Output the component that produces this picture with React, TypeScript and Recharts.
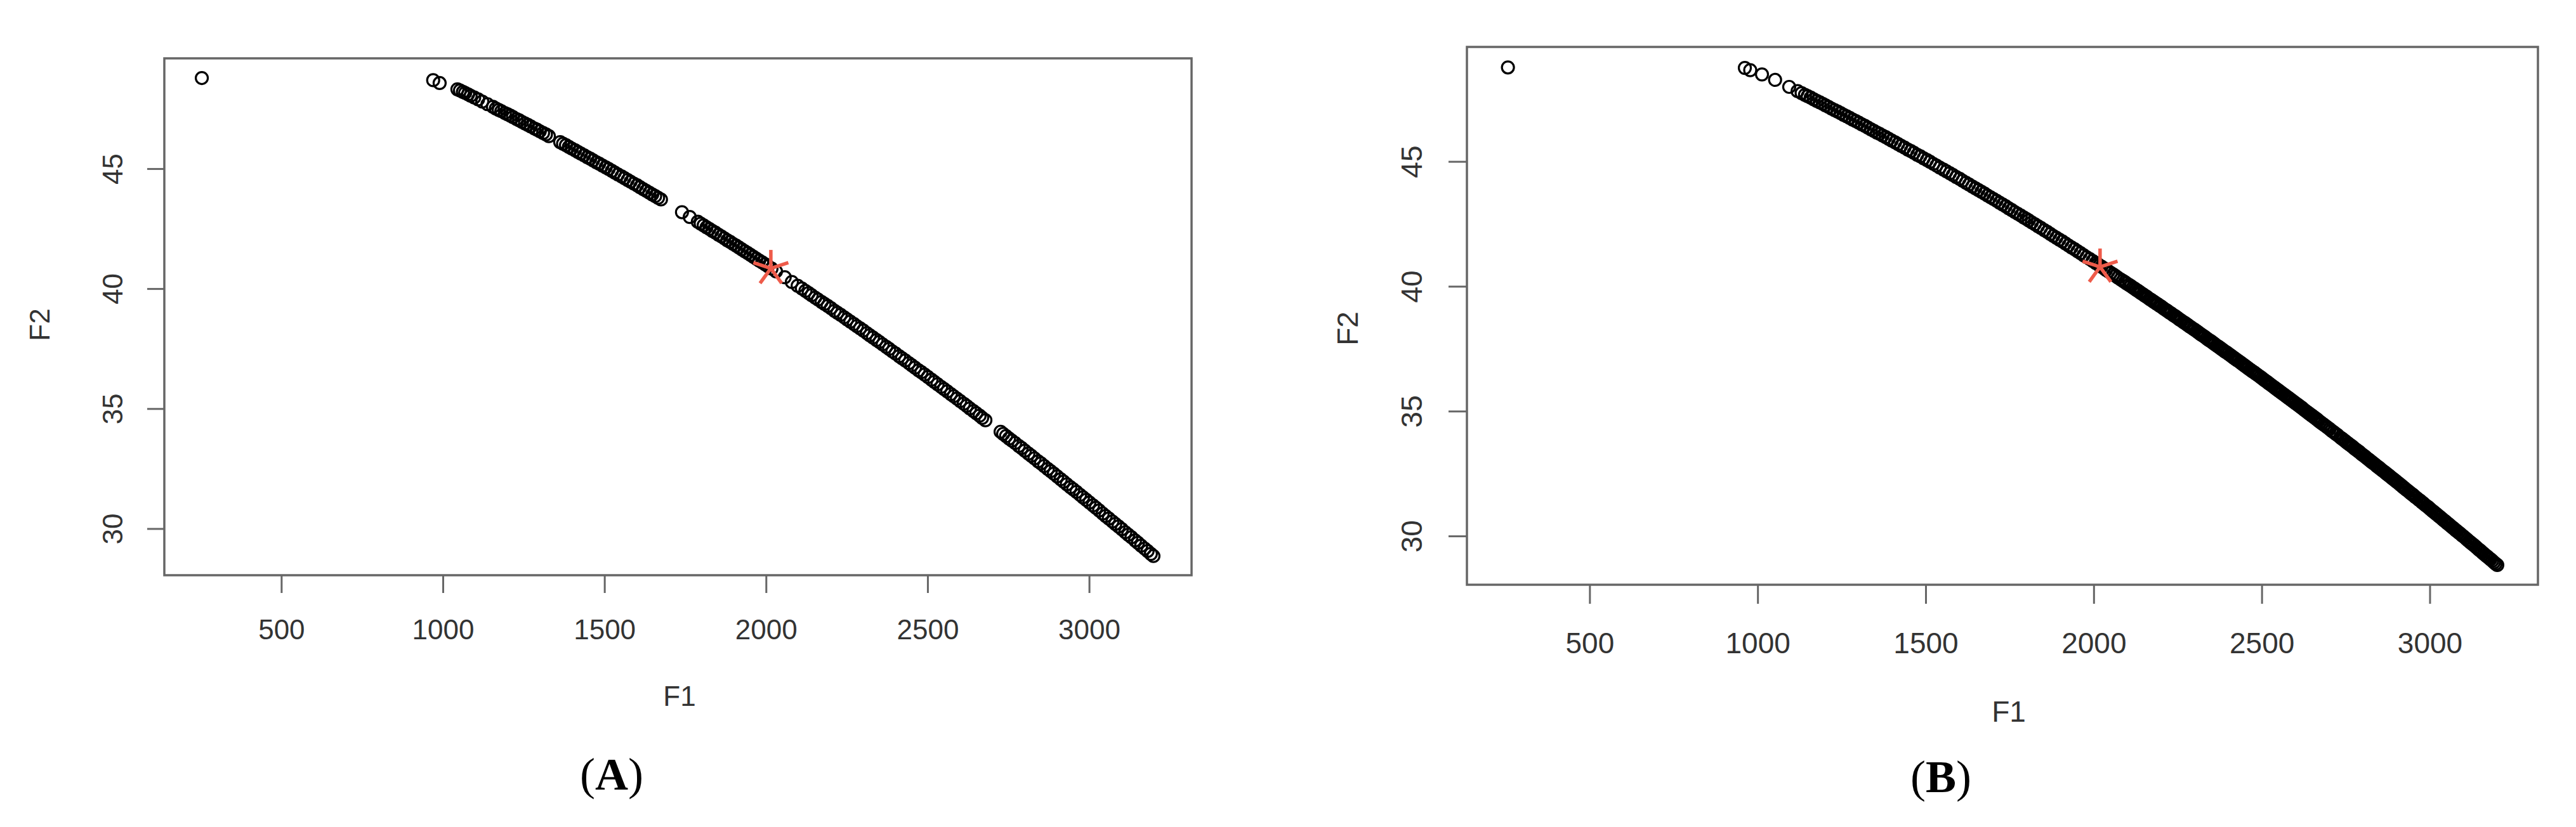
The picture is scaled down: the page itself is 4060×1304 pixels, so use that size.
import React from 'react';
import { ScatterChart, Scatter, XAxis, YAxis, ReferenceArea } from 'recharts';

// ---- data (F1, F2) ----
const panelAPoints: [number, number][] = [
  [253, 48.79], [969, 48.70], [989, 48.58],
  [1044, 48.32], [1052, 48.27], [1061, 48.21], [1068, 48.17], [1077, 48.11], [1085, 48.05], [1096, 47.98],
  [1108, 47.90], [1121, 47.81], [1137, 47.70], [1154, 47.59], [1163, 47.52], [1172, 47.46], [1180, 47.41],
  [1191, 47.33], [1199, 47.28], [1208, 47.22], [1216, 47.16], [1227, 47.08], [1235, 47.03], [1244, 46.96],
  [1253, 46.90], [1262, 46.84], [1271, 46.77], [1282, 46.69], [1290, 46.64], [1299, 46.57], [1309, 46.50],
  [1318, 46.44], [1327, 46.37],
  [1362, 46.12], [1371, 46.05], [1380, 45.99], [1389, 45.92], [1398, 45.85], [1408, 45.78], [1417, 45.71],
  [1426, 45.64], [1436, 45.57], [1446, 45.49], [1455, 45.43], [1464, 45.36], [1474, 45.28], [1483, 45.22],
  [1493, 45.14], [1503, 45.07], [1512, 45.00], [1522, 44.92], [1531, 44.85], [1541, 44.77], [1552, 44.69],
  [1561, 44.62], [1571, 44.54], [1580, 44.47], [1590, 44.39], [1600, 44.32], [1609, 44.24], [1619, 44.16],
  [1628, 44.09], [1638, 44.01], [1647, 43.94], [1656, 43.87], [1665, 43.80], [1674, 43.73],
  [1739, 43.20], [1763, 43.00], [1788, 42.80], [1797, 42.72], [1806, 42.65], [1815, 42.57], [1824, 42.50],
  [1833, 42.42], [1842, 42.35], [1852, 42.26], [1861, 42.19], [1870, 42.11], [1879, 42.03], [1888, 41.96],
  [1897, 41.88], [1906, 41.81], [1915, 41.73], [1924, 41.65], [1933, 41.57], [1942, 41.50], [1951, 41.42],
  [1960, 41.34], [1969, 41.26], [1978, 41.18], [1987, 41.11], [1996, 41.03], [2005, 40.95], [2016, 40.85],
  [2030, 40.73], [2057, 40.49], [2079, 40.29], [2097, 40.13], [2110, 40.02], [2121, 39.92], [2131, 39.83],
  [2140, 39.74], [2151, 39.64], [2160, 39.56], [2171, 39.46], [2180, 39.38], [2190, 39.29], [2200, 39.20],
  [2211, 39.09], [2220, 39.01], [2230, 38.92], [2241, 38.82], [2250, 38.73], [2260, 38.64], [2271, 38.54],
  [2280, 38.45], [2290, 38.36], [2300, 38.27], [2311, 38.16], [2320, 38.07], [2330, 37.98], [2341, 37.87],
  [2350, 37.79], [2360, 37.69], [2371, 37.59], [2380, 37.50], [2390, 37.40], [2400, 37.31], [2411, 37.20],
  [2420, 37.11], [2430, 37.02], [2441, 36.91], [2450, 36.82], [2460, 36.72], [2471, 36.61], [2480, 36.53],
  [2490, 36.43], [2500, 36.33], [2511, 36.22], [2520, 36.13], [2530, 36.03], [2541, 35.92], [2550, 35.83],
  [2560, 35.73], [2571, 35.62], [2580, 35.53], [2590, 35.43], [2600, 35.33], [2611, 35.22], [2620, 35.13],
  [2630, 35.02], [2641, 34.91], [2650, 34.82], [2660, 34.72], [2668, 34.63], [2678, 34.53],
  [2725, 34.05], [2733, 33.96], [2742, 33.87], [2751, 33.77], [2760, 33.68], [2770, 33.58], [2781, 33.46],
  [2790, 33.37], [2800, 33.26], [2811, 33.14], [2820, 33.05], [2830, 32.94], [2841, 32.82], [2850, 32.73],
  [2860, 32.62], [2871, 32.50], [2880, 32.41], [2890, 32.30], [2900, 32.19], [2911, 32.07], [2920, 31.97],
  [2930, 31.86], [2941, 31.74], [2950, 31.65], [2960, 31.54], [2971, 31.42], [2980, 31.32], [2990, 31.21],
  [3000, 31.10], [3011, 30.98], [3020, 30.88], [3030, 30.77], [3041, 30.64], [3050, 30.54], [3060, 30.43],
  [3071, 30.31], [3080, 30.21], [3090, 30.10], [3100, 29.99], [3111, 29.86], [3120, 29.76], [3130, 29.65],
  [3141, 29.52], [3150, 29.42], [3160, 29.30], [3171, 29.18], [3180, 29.08], [3190, 28.96], [3198, 28.87],
];

const panelBPoints: [number, number][] = [
  [256, 48.78], [961, 48.76], [977, 48.67], [1012, 48.50], [1051, 48.28], [1093, 48.00], [1118, 47.83],
  [1130, 47.75], [1140, 47.68], [1148, 47.63], [1157, 47.57], [1166, 47.50], [1175, 47.44], [1184, 47.38],
  [1193, 47.32], [1201, 47.26], [1210, 47.20], [1219, 47.13], [1228, 47.07], [1237, 47.01], [1246, 46.95],
  [1255, 46.88], [1264, 46.82], [1273, 46.76], [1282, 46.69], [1291, 46.63], [1300, 46.57], [1309, 46.50],
  [1318, 46.44], [1327, 46.37], [1336, 46.30], [1345, 46.24], [1354, 46.17], [1362, 46.12], [1371, 46.05],
  [1380, 45.99], [1389, 45.92], [1398, 45.85], [1408, 45.78], [1417, 45.71], [1426, 45.64], [1436, 45.57],
  [1446, 45.49], [1455, 45.43], [1464, 45.36], [1474, 45.28], [1483, 45.22], [1493, 45.14], [1503, 45.07],
  [1512, 45.00], [1522, 44.92], [1531, 44.85], [1541, 44.77], [1552, 44.69], [1561, 44.62], [1571, 44.54],
  [1580, 44.47], [1590, 44.39], [1600, 44.32], [1609, 44.24], [1619, 44.16], [1628, 44.09], [1638, 44.01],
  [1647, 43.94], [1656, 43.87], [1665, 43.80], [1674, 43.73], [1683, 43.65], [1692, 43.58], [1701, 43.51],
  [1710, 43.44], [1719, 43.36], [1728, 43.29], [1737, 43.22], [1746, 43.14], [1755, 43.07], [1764, 42.99],
  [1773, 42.92], [1782, 42.85], [1791, 42.77], [1799, 42.71], [1806, 42.65], [1815, 42.57], [1824, 42.50],
  [1833, 42.42], [1842, 42.35], [1852, 42.26], [1861, 42.19], [1870, 42.11], [1879, 42.03], [1888, 41.96],
  [1897, 41.88], [1906, 41.81], [1915, 41.73], [1924, 41.65], [1933, 41.57], [1942, 41.50], [1951, 41.42],
  [1960, 41.34], [1969, 41.26], [1978, 41.18], [1987, 41.11], [1996, 41.03], [2005, 40.95], [2011, 40.90],
  [2016, 40.85], [2022, 40.80], [2030, 40.73], [2036, 40.67], [2043, 40.61], [2050, 40.55], [2057, 40.49],
  [2064, 40.43], [2071, 40.36], [2079, 40.29], [2086, 40.23], [2092, 40.18], [2097, 40.13], [2104, 40.07],
  [2110, 40.02], [2116, 39.96], [2121, 39.92], [2126, 39.87], [2131, 39.83], [2136, 39.78], [2140, 39.74],
  [2146, 39.69], [2151, 39.64], [2156, 39.60], [2160, 39.56], [2166, 39.50], [2171, 39.46], [2176, 39.41],
  [2180, 39.38], [2185, 39.33], [2190, 39.29], [2195, 39.24], [2200, 39.20], [2206, 39.14], [2211, 39.09],
  [2216, 39.05], [2220, 39.01], [2225, 38.96], [2230, 38.92], [2236, 38.86], [2241, 38.82], [2245, 38.78],
  [2250, 38.73], [2255, 38.68], [2260, 38.64], [2266, 38.58], [2271, 38.54], [2276, 38.49], [2280, 38.45],
  [2285, 38.40], [2290, 38.36], [2295, 38.31], [2300, 38.27], [2306, 38.21], [2311, 38.16], [2316, 38.11],
  [2320, 38.07], [2325, 38.03], [2330, 37.98], [2336, 37.92], [2341, 37.87], [2346, 37.83], [2350, 37.79],
  [2355, 37.74], [2360, 37.69], [2366, 37.63], [2371, 37.59], [2376, 37.54], [2380, 37.50], [2385, 37.45],
  [2390, 37.40], [2395, 37.36], [2400, 37.31], [2406, 37.25], [2411, 37.20], [2416, 37.15], [2420, 37.11],
  [2425, 37.06], [2430, 37.02], [2436, 36.96], [2441, 36.91], [2446, 36.86], [2450, 36.82], [2455, 36.77],
  [2460, 36.72], [2466, 36.66], [2471, 36.61], [2476, 36.57], [2480, 36.53], [2485, 36.48], [2490, 36.43],
  [2495, 36.38], [2500, 36.33], [2506, 36.27], [2511, 36.22], [2516, 36.17], [2520, 36.13], [2525, 36.08],
  [2530, 36.03], [2536, 35.97], [2541, 35.92], [2546, 35.87], [2550, 35.83], [2555, 35.78], [2560, 35.73],
  [2566, 35.67], [2571, 35.62], [2576, 35.57], [2580, 35.53], [2585, 35.48], [2590, 35.43], [2595, 35.38],
  [2600, 35.33], [2606, 35.27], [2611, 35.22], [2616, 35.17], [2620, 35.13], [2625, 35.07], [2630, 35.02],
  [2636, 34.96], [2641, 34.91], [2646, 34.86], [2650, 34.82], [2655, 34.77], [2660, 34.72], [2664, 34.68],
  [2668, 34.63], [2673, 34.58], [2678, 34.53], [2684, 34.47], [2690, 34.41], [2695, 34.36], [2701, 34.30],
  [2707, 34.23], [2713, 34.17], [2719, 34.11], [2725, 34.05], [2733, 33.96], [2738, 33.91], [2742, 33.87],
  [2747, 33.82], [2751, 33.77], [2756, 33.72], [2760, 33.68], [2765, 33.63], [2770, 33.58], [2775, 33.52],
  [2781, 33.46], [2786, 33.41], [2790, 33.37], [2795, 33.31], [2800, 33.26], [2806, 33.20], [2811, 33.14],
  [2816, 33.09], [2820, 33.05], [2825, 32.99], [2830, 32.94], [2836, 32.88], [2841, 32.82], [2846, 32.77],
  [2850, 32.73], [2855, 32.67], [2860, 32.62], [2866, 32.56], [2871, 32.50], [2876, 32.45], [2880, 32.41],
  [2885, 32.35], [2890, 32.30], [2895, 32.25], [2900, 32.19], [2906, 32.13], [2911, 32.07], [2916, 32.02],
  [2920, 31.97], [2925, 31.92], [2930, 31.86], [2936, 31.80], [2941, 31.74], [2946, 31.69], [2950, 31.65],
  [2955, 31.59], [2960, 31.54], [2966, 31.47], [2971, 31.42], [2976, 31.36], [2980, 31.32], [2985, 31.26],
  [2990, 31.21], [2995, 31.16], [3000, 31.10], [3006, 31.03], [3011, 30.98], [3016, 30.92], [3020, 30.88],
  [3025, 30.82], [3030, 30.77], [3036, 30.70], [3041, 30.64], [3046, 30.59], [3050, 30.54], [3055, 30.49],
  [3060, 30.43], [3066, 30.36], [3071, 30.31], [3076, 30.25], [3080, 30.21], [3085, 30.15], [3090, 30.10],
  [3095, 30.04], [3100, 29.99], [3106, 29.92], [3111, 29.86], [3116, 29.80], [3120, 29.76], [3125, 29.70],
  [3130, 29.65], [3136, 29.58], [3141, 29.52], [3146, 29.46], [3150, 29.42], [3155, 29.36], [3160, 29.30],
  [3166, 29.23], [3171, 29.18], [3176, 29.12], [3180, 29.08], [3185, 29.02], [3190, 28.96], [3195, 28.90],
  [3200, 28.85],
];

const starA: [number, number] = [2014, 40.86];
const starB: [number, number] = [2018, 40.79];

const xTicks = [500, 1000, 1500, 2000, 2500, 3000];
const yTicks = [30, 35, 40, 45];
const xTitle = 'F1';
const yTitle = 'F2';
const captionA = 'A';
const captionB = 'B';

// ---- styling ----
const SANS = '"Liberation Sans", Arial, Helvetica, sans-serif';
const SERIF = '"Liberation Serif", "Times New Roman", serif';
const TICK_COLOR = '#333';
const FRAME = '#666';
const STAR_COLOR = '#EE5B4A';

const Ring = (props: any) => {
  const { cx, cy } = props;
  if (cx == null || cy == null) return <g />;
  return <circle cx={cx} cy={cy} r={9.5} fill="none" stroke="#000" strokeWidth={3.2} />;
};

const Star = (props: any) => {
  const { cx, cy } = props;
  if (cx == null || cy == null) return <g />;
  const L = 29;
  const angles = [90, 18, 162, 234, 306];
  return (
    <g>
      {angles.map((a) => {
        const r = (a * Math.PI) / 180;
        return (
          <line key={a} x1={cx} y1={cy} x2={cx + L * Math.cos(r)} y2={cy - L * Math.sin(r)}
            stroke={STAR_COLOR} strokeWidth={5.5} strokeLinecap="butt" />
        );
      })}
    </g>
  );
};

type Cfg = {
  left: number;
  margin: { top: number; right: number; bottom: number; left: number };
  xDomain: [number, number];
  yDomain: [number, number];
  xTickLen: number;
  yTickLen: number;
  xLabelOff: number;
  yLabelOff: number;
  fs: number;
};

const cfgA: Cfg = {
  left: 0,
  margin: { top: 92, right: 152, bottom: 247, left: 109 },
  xDomain: [137, 3316],
  yDomain: [28.07, 49.61],
  xTickLen: 28,
  yTickLen: 27,
  xLabelOff: 57,
  yLabelOff: 54,
  fs: 44,
};

const cfgB: Cfg = {
  left: 2030,
  margin: { top: 74, right: 60, bottom: 232, left: 132 },
  xDomain: [134, 3321],
  yDomain: [28.06, 49.6],
  xTickLen: 30,
  yTickLen: 29,
  xLabelOff: 62,
  yLabelOff: 58,
  fs: 46,
};

function Panel({ points, star, cfg }: { points: [number, number][]; star: [number, number]; cfg: Cfg }) {
  const data = points.map(([F1, F2]) => ({ F1, F2 }));
  const starData = [{ F1: star[0], F2: star[1] }];
  const XTick = (p: any) => (
    <text x={p.x} y={p.y + cfg.xLabelOff} textAnchor="middle" dominantBaseline="central"
      fontFamily={SANS} fontSize={cfg.fs} fill={TICK_COLOR}>{p.payload.value}</text>
  );
  const YTick = (p: any) => {
    const tx = p.x - cfg.yLabelOff;
    return (
      <text x={tx} y={p.y} transform={`rotate(-90, ${tx}, ${p.y})`} textAnchor="middle" dominantBaseline="central"
        fontFamily={SANS} fontSize={cfg.fs} fill={TICK_COLOR}>{p.payload.value}</text>
    );
  };
  return (
    <div style={{ position: 'absolute', left: cfg.left, top: 0 }}>
      <ScatterChart width={2030} height={1304} margin={cfg.margin}>
        <XAxis type="number" dataKey="F1" domain={cfg.xDomain} allowDataOverflow ticks={xTicks} interval={0}
          height={150} tickSize={cfg.xTickLen} tickMargin={0} axisLine={false}
          tickLine={{ stroke: FRAME, strokeWidth: 3 }} tick={XTick} />
        <YAxis type="number" dataKey="F2" domain={cfg.yDomain} allowDataOverflow ticks={yTicks} interval={0}
          width={150} tickSize={cfg.yTickLen} tickMargin={0} axisLine={false}
          tickLine={{ stroke: FRAME, strokeWidth: 3 }} tick={YTick} />
        <ReferenceArea x1={cfg.xDomain[0]} x2={cfg.xDomain[1]} y1={cfg.yDomain[0]} y2={cfg.yDomain[1]}
          fill="none" fillOpacity={0} stroke={FRAME} strokeWidth={3.5} ifOverflow="visible" />
        <Scatter data={data} shape={Ring} isAnimationActive={false} />
        <Scatter data={starData} shape={Star} isAnimationActive={false} />
      </ScatterChart>
    </div>
  );
}

export default function App() {
  return (
    <div style={{ position: 'absolute', left: 0, top: 0, width: 4060, height: 1304, background: '#fff', overflow: 'hidden' }}>
      <Panel points={panelAPoints} star={starA} cfg={cfgA} />
      <Panel points={panelBPoints} star={starB} cfg={cfgB} />
      <svg width={4060} height={1304} style={{ position: 'absolute', left: 0, top: 0, pointerEvents: 'none' }}>
        <text x={62} y={512} transform="rotate(-90, 62, 512)" textAnchor="middle" dominantBaseline="central"
          fontFamily={SANS} fontSize={44} fill={TICK_COLOR}>{yTitle}</text>
        <text x={1071} y={1097} textAnchor="middle" dominantBaseline="central"
          fontFamily={SANS} fontSize={44} fill={TICK_COLOR}>{xTitle}</text>
        <text x={964} y={1245} textAnchor="middle" fontFamily={SERIF} fontSize={72} fill="#000">
          <tspan>(</tspan><tspan fontWeight="bold">{captionA}</tspan><tspan>)</tspan>
        </text>
        <text x={2124} y={518} transform="rotate(-90, 2124, 518)" textAnchor="middle" dominantBaseline="central"
          fontFamily={SANS} fontSize={46} fill={TICK_COLOR}>{yTitle}</text>
        <text x={3166} y={1122} textAnchor="middle" dominantBaseline="central"
          fontFamily={SANS} fontSize={46} fill={TICK_COLOR}>{xTitle}</text>
        <text x={3059} y={1249} textAnchor="middle" fontFamily={SERIF} fontSize={72} fill="#000">
          <tspan>(</tspan><tspan fontWeight="bold">{captionB}</tspan><tspan>)</tspan>
        </text>
      </svg>
    </div>
  );
}
